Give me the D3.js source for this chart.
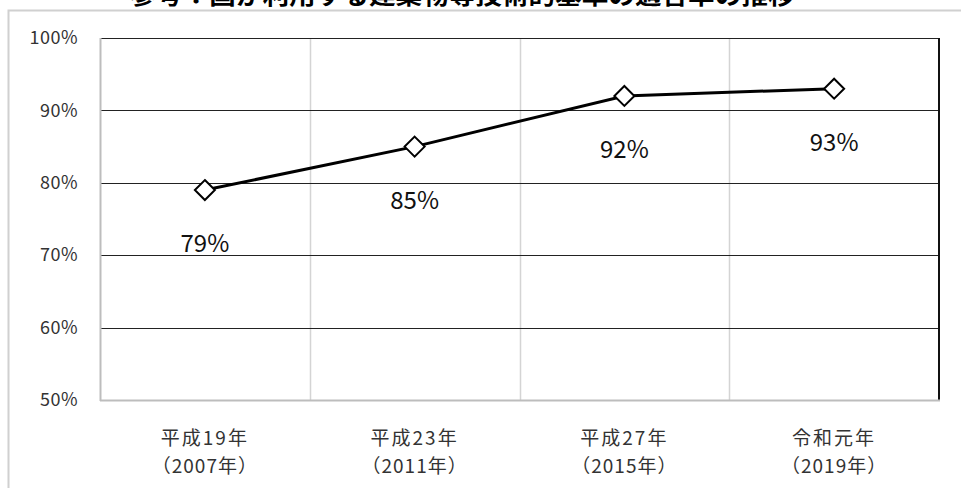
<!DOCTYPE html>
<html>
<head>
<meta charset="utf-8">
<script src="https://cdn.jsdelivr.net/npm/d3@7"></script>
<style>
  html, body { margin: 0; padding: 0; background: #fff; }
  svg { display: block; }
</style>
</head>
<body>
<svg id="chart" width="961" height="488"></svg>
<script>
// Survey years (two-line category labels) and percentage values
const categories = ["平成19年", "平成23年", "平成27年", "令和元年"];
const categoryYears = ["（2007年）", "（2011年）", "（2015年）", "（2019年）"];
const values = [79, 85, 92, 93];
const yTicks = [50, 60, 70, 80, 90, 100];
const titleText = "参考：国が利用する建築物等技術的基準の適合率の推移";

const svg = d3.select("#chart");
const W = 961, H = 488;
const margin = { left: 100, right: 22, top: 38, bottom: 88 };
const plotW = W - margin.left - margin.right;
const plotH = H - margin.top - margin.bottom;
const font = "'Noto Sans CJK JP', 'DejaVu Sans', sans-serif";

// Outer chart frame
svg.append("path")
  .attr("d", `M8.5,${H} L8.5,10.5 L${W},10.5`)
  .attr("fill", "none").attr("stroke", "#d0d0d0").attr("stroke-width", 2);

// Title (runs off the top edge)
svg.append("text")
  .attr("x", 462).attr("y", 4)
  .attr("text-anchor", "middle")
  .attr("font-family", font).attr("font-weight", "bold")
  .attr("font-size", 24)
  .attr("textLength", 665).attr("lengthAdjust", "spacingAndGlyphs")
  .text(titleText);

const g = svg.append("g").attr("transform", `translate(${margin.left},${margin.top})`);

const x = d3.scaleBand().domain(categories).range([0, plotW]).padding(0);
const y = d3.scaleLinear().domain([50, 100]).range([plotH, 0]);

// Vertical category separators
g.selectAll(".vgrid").data(categories.slice(1)).join("line")
  .attr("class", "vgrid")
  .attr("x1", d => Math.round(x(d)) + 0.5).attr("x2", d => Math.round(x(d)) + 0.5)
  .attr("y1", 0).attr("y2", plotH)
  .attr("stroke", "#d4d4d4").attr("stroke-width", 1.5);

// Horizontal gridlines
g.selectAll(".hgrid").data(yTicks.filter(t => t > 50)).join("line")
  .attr("class", "hgrid")
  .attr("x1", 0).attr("x2", plotW)
  .attr("y1", d => Math.round(y(d)) + 0.5).attr("y2", d => Math.round(y(d)) + 0.5)
  .attr("stroke", "#222").attr("stroke-width", 1);

// Right border
g.append("line")
  .attr("x1", plotW).attr("x2", plotW).attr("y1", 0).attr("y2", plotH)
  .attr("stroke", "#111").attr("stroke-width", 2);

// Left and bottom axis lines
g.append("line")
  .attr("x1", 0.5).attr("x2", 0.5).attr("y1", 0).attr("y2", plotH + 1)
  .attr("stroke", "#bdbdbd").attr("stroke-width", 2);
g.append("line")
  .attr("x1", 0).attr("x2", plotW + 1).attr("y1", plotH + 0.5).attr("y2", plotH + 0.5)
  .attr("stroke", "#bdbdbd").attr("stroke-width", 2);

// Y axis tick labels
const yAxis = d3.axisLeft(y).tickValues(yTicks).tickSize(0).tickPadding(22)
  .tickFormat(d => d + "%");
const ya = g.append("g").call(yAxis);
ya.select(".domain").remove();
ya.selectAll("text")
  .attr("font-family", font).attr("font-size", 18).attr("letter-spacing", 0.5)
  .attr("fill", "#333");

// X axis category labels (two lines)
const xa = g.append("g").attr("transform", `translate(0,${plotH})`);
categories.forEach((c, i) => {
  const cx = x(c) + x.bandwidth() / 2;
  xa.append("text").attr("x", cx).attr("y", 45)
    .attr("text-anchor", "middle").attr("font-family", font)
    .attr("font-size", 19).attr("letter-spacing", 2).attr("fill", "#333").text(c);
  xa.append("text").attr("x", cx).attr("y", 73)
    .attr("text-anchor", "middle").attr("font-family", font)
    .attr("font-size", 19).attr("letter-spacing", 1).attr("fill", "#333").text(categoryYears[i]);
});

// Line
const pts = categories.map((c, i) => [x(c) + x.bandwidth() / 2, y(values[i])]);
g.append("path")
  .attr("d", d3.line()(pts))
  .attr("fill", "none").attr("stroke", "#000").attr("stroke-width", 3);

// Diamond markers
g.selectAll(".marker").data(pts).join("path")
  .attr("class", "marker")
  .attr("transform", d => `translate(${d[0]},${d[1]})`)
  .attr("d", "M0,-10 L10,0 L0,10 L-10,0 Z")
  .attr("fill", "#fff").attr("stroke", "#000").attr("stroke-width", 2);

// Value labels
g.selectAll(".vlabel").data(pts).join("text")
  .attr("class", "vlabel")
  .attr("x", d => d[0]).attr("y", d => d[1] + 62)
  .attr("text-anchor", "middle").attr("font-family", font)
  .attr("font-size", 24).attr("fill", "#111")
  .text((d, i) => values[i] + "%");
</script>
</body>
</html>
